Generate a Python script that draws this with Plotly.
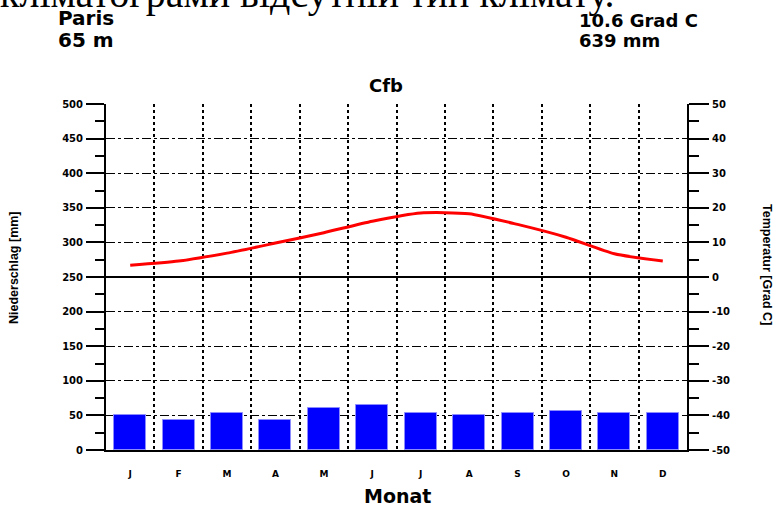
import plotly.graph_objects as go

# ---- data ----
months = ["J", "F", "M", "A", "M", "J", "J", "A", "S", "O", "N", "D"]
precip_mm = [51, 44, 53, 44, 61, 65, 53, 50, 53, 57, 54, 54]
temp_c = [3.4, 4.6, 6.9, 9.8, 12.8, 16.1, 18.5, 18.3, 15.2, 11.5, 6.7, 4.6]
precip_tickvals = list(range(0, 501, 50))
temp_tickvals = list(range(-50, 51, 10))
temp_ticktext = ["-50", "-40", "-30", "-20", "-10", "0", "10", "20", "30", "40", "50"]

station = "Paris"
elevation = "65 m"
mean_temp = "10.6 Grad C"
total_precip = "639 mm"
climate_class = "Cfb"
header_line = "кліматограми відсутній тип клімату."

xs = list(range(len(months)))

# ---- geometry helpers (pixel -> paper) ----
L, R, T, B = 106, 687, 104, 450
W, H = R - L, B - T


def px(x):
    return (x - L) / W


def py(y):
    return (B - y) / H


BOLD = "DejaVu Sans"
SANS = "Liberation Sans"

fig = go.Figure()
fig.add_bar(
    x=xs, y=precip_mm, width=0.66, yaxis="y",
    marker=dict(color="#0000FF", line=dict(color="#8c8cff", width=1)),
)
fig.add_scatter(
    x=xs, y=temp_c, mode="lines", yaxis="y2",
    line=dict(color="#FF0000", width=3, shape="spline", smoothing=0.6),
)

tickfont = dict(family=BOLD, size=10, color="black", weight="bold")

fig.update_layout(
    width=780, height=506,
    margin=dict(l=L, r=780 - R, t=T, b=506 - B, pad=0),
    paper_bgcolor="white", plot_bgcolor="white",
    showlegend=False,
    bargap=0,
    xaxis=dict(
        range=[-0.5, len(months) - 0.5],
        tickvals=xs, ticktext=months,
        showgrid=False, zeroline=False,
        showline=True, linecolor="black", linewidth=1.5,
        ticks="", ticklabelstandoff=14,
        tickfont=dict(family=BOLD, size=9, color="black", weight="bold"),
        minor=dict(tick0=0.5, dtick=1, showgrid=True, griddash="dot",
                   gridcolor="black", gridwidth=2, ticks=""),
    ),
    yaxis=dict(
        range=[0, 500], tickvals=precip_tickvals,
        showgrid=True, griddash="dashdot", gridcolor="black", gridwidth=1,
        zeroline=False,
        showline=True, linecolor="black", linewidth=2,
        ticks="outside", ticklen=18, tickwidth=1.5, tickcolor="black",
        ticklabelstandoff=1,
        tickfont=tickfont,
        minor=dict(dtick=25, ticks="outside", ticklen=9, tickwidth=1.5,
                   tickcolor="black", showgrid=False),
    ),
    yaxis2=dict(
        range=[-50, 50], tickvals=temp_tickvals, ticktext=temp_ticktext,
        overlaying="y", side="right",
        showgrid=False,
        zeroline=True, zerolinecolor="black", zerolinewidth=1.5,
        showline=True, linecolor="black", linewidth=2,
        ticks="outside", ticklen=20, tickwidth=1.5, tickcolor="black",
        ticklabelstandoff=1,
        tickfont=tickfont,
        minor=dict(dtick=5, ticks="outside", ticklen=10, tickwidth=1.5,
                   tickcolor="black", showgrid=False),
    ),
)

def ann(text, x, y, size, family=BOLD, xanchor="center", angle=0, weight="bold", yanchor="middle"):
    fig.add_annotation(
        text=text, xref="paper", yref="paper", x=px(x), y=py(y),
        xanchor=xanchor, yanchor=yanchor, showarrow=False, textangle=angle,
        font=dict(family=family, size=size, color="black", weight=weight),
    )

ann(header_line, 617, -7, 40, family="Liberation Serif", xanchor="right", weight="normal")
ann(station, 56, 18, 20, xanchor="left")
ann(elevation, 56, 40, 20, xanchor="left")
ann(mean_temp, 577, 20, 18, xanchor="left")
ann(total_precip, 577, 40, 18, xanchor="left")
ann(climate_class, 386, 86, 18)
ann("Niederschlag [mm]", 14, 268, 12.5, family=SANS, angle=-90)
ann("Temperatur [Grad C]", 767, 264, 12.5, family=SANS, angle=90)
ann("Monat", 397, 496, 19)

fig.write_html("out.html", config={"displayModeBar": False},
               post_script="document.body.style.margin='0';")
